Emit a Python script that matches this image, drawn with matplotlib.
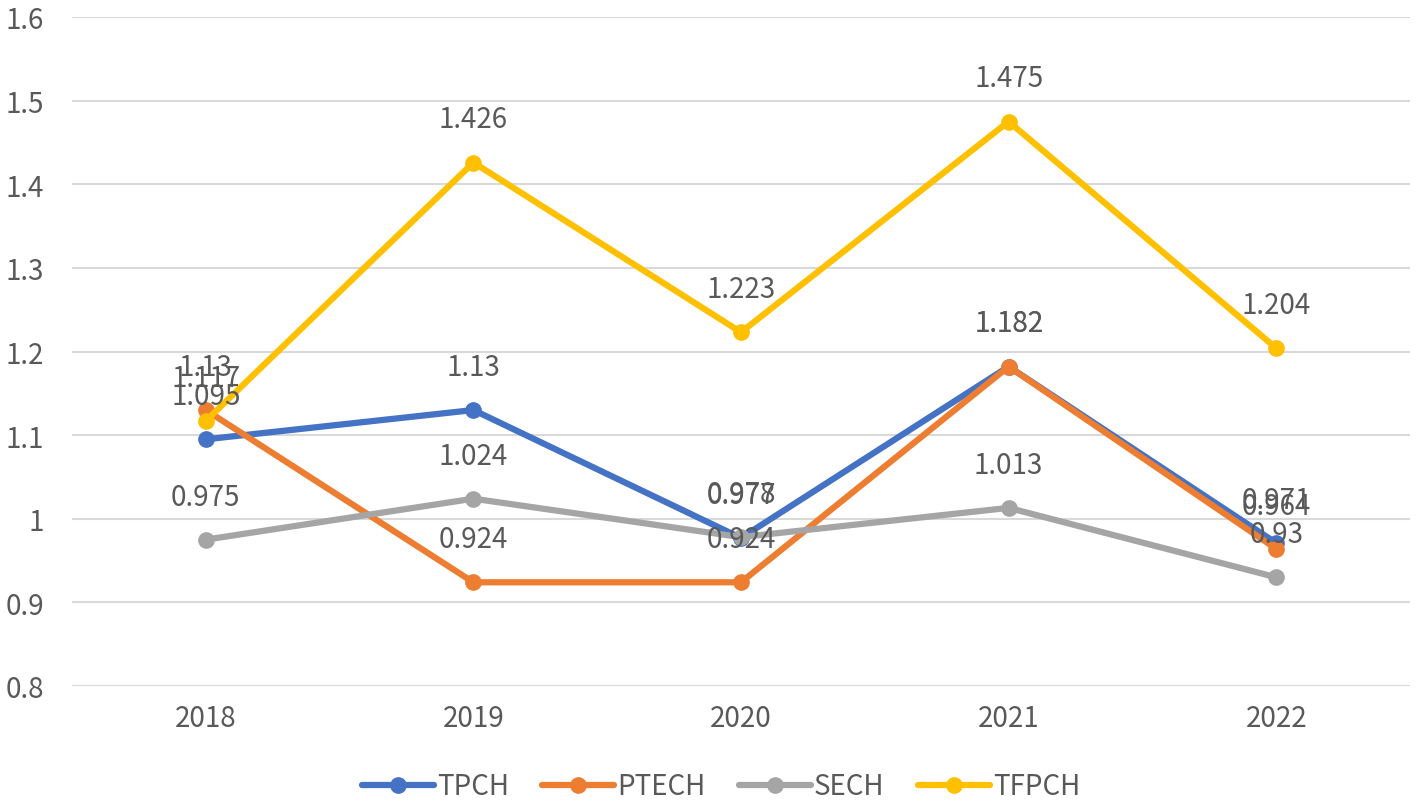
import matplotlib
matplotlib.use("Agg")
import matplotlib.pyplot as plt

years = ["2018", "2019", "2020", "2021", "2022"]
tpch = [1.095, 1.13, 0.977, 1.182, 0.971]
ptech = [1.13, 0.924, 0.924, 1.182, 0.964]
sech = [0.975, 1.024, 0.978, 1.013, 0.93]
tfpch = [1.117, 1.426, 1.223, 1.475, 1.204]

series = [
    ("TPCH", tpch, "#4472C4"),
    ("PTECH", ptech, "#ED7D31"),
    ("SECH", sech, "#A5A5A5"),
    ("TFPCH", tfpch, "#FFC000"),
]

plt.rcParams['font.family'] = ['Noto Sans CJK SC', 'DejaVu Sans']
txt = "#595959"
fs = 20

fig = plt.figure(figsize=(14.18, 8.04), dpi=100)
ax = fig.add_axes([72 / 1418, 117 / 804, 1338 / 1418, 669 / 804])

x = list(range(len(years)))
for name, vals, col in series:
    ax.plot(x, vals, color=col, lw=4.5, marker="o", ms=11, label=name,
            solid_capstyle="round")
for name, vals, col in series:
    for xi, v in zip(x, vals):
        ax.annotate(f"{v:g}", (xi, v), xytext=(0, 31), textcoords="offset points",
                    ha="center", va="center", fontsize=fs, color=txt)

ax.set_xlim(-0.5, 4.5)
ax.set_ylim(0.8, 1.6)
ax.set_yticks([0.8, 0.9, 1.0, 1.1, 1.2, 1.3, 1.4, 1.5, 1.6])
ax.set_yticklabels(["0.8", "0.9", "1", "1.1", "1.2", "1.3", "1.4", "1.5", "1.6"])
ax.set_xticks(x)
ax.set_xticklabels(years)
ax.tick_params(axis="both", length=0, labelsize=fs, labelcolor=txt)
ax.tick_params(axis="x", pad=12)
ax.tick_params(axis="y", pad=20)
ax.grid(axis="y", color="#D9D9D9", lw=1.5)
ax.set_axisbelow(True)
for s in ax.spines.values():
    s.set_visible(False)

ax.legend(loc="lower center", bbox_to_anchor=(0.485, -0.21), ncol=4, frameon=False,
          fontsize=fs, labelcolor=txt, handlelength=2.6, handletextpad=0.1,
          columnspacing=1.2)

fig.savefig("out.png", dpi=100)
